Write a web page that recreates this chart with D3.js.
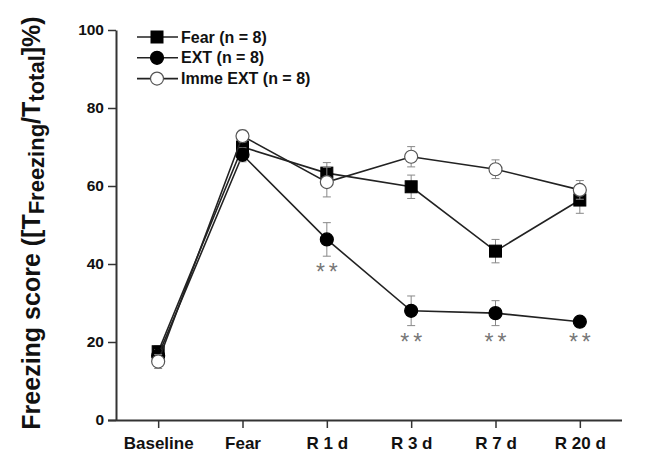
<!DOCTYPE html>
<html>
<head>
<meta charset="utf-8">
<script src="https://cdn.jsdelivr.net/npm/d3@7"></script>
<style>
  body { margin: 0; background: #fff; }
  text { font-family: Arial, "Liberation Sans", sans-serif; }
</style>
</head>
<body>
<div id="container"></div>
<script>
let w = 646;
let h = 455;

// categories on the x axis
let days = ["Baseline", "Fear", "R 1 d", "R 3 d", "R 7 d", "R 20 d"];
let yTicks = [0, 20, 40, 60, 80, 100];

// series means and sem
let fearMean = [17.5, 70, 63.3, 59.8, 43.3, 56.4];
let fearSem  = [1.5, 1.8, 2.7, 3, 3, 3.4];
let extMean  = [16.5, 68, 46.3, 28, 27.4, 25.2];
let extSem   = [1.5, 1.8, 4.3, 3.8, 3.2, 1];
let immeMean = [15, 72.8, 61, 67.5, 64.3, 59];
let immeSem  = [1.8, 1.5, 3.8, 2.6, 2.4, 2.4];

// which points get the ** mark (EXT group)
let starDays = ["R 1 d", "R 3 d", "R 7 d", "R 20 d"];

let seriesNames = ["Fear (n = 8)", "EXT (n = 8)", "Imme EXT (n = 8)"];

function makeSeries(means, sems){
  return days.map(function(d, i){
    return {day: d, v: means[i], sem: sems[i]};
  });
}

let series = [
  {name: seriesNames[0], shape: "square", fill: "#000", pts: makeSeries(fearMean, fearSem)},
  {name: seriesNames[1], shape: "circle", fill: "#000", pts: makeSeries(extMean, extSem)},
  {name: seriesNames[2], shape: "circle", fill: "#fff", pts: makeSeries(immeMean, immeSem)}
];

let viz = d3.select("#container")
  .append("svg")
    .attr("width", w)
    .attr("height", h)
    .style("background-color", "white");

let padL = 116, padR = 622, padT = 30, padB = 420;

let xScale = d3.scalePoint().domain(days).range([padL, padR]).padding(0.5);
let yScale = d3.scaleLinear().domain([0, 100]).range([padB, padT]);

// axes
let xAxis = d3.axisBottom(xScale).tickSize(8).tickSizeOuter(0);
let xAxisGroup = viz.append("g").attr("class", "xaxis")
  .attr("transform", "translate(0," + padB + ")")
  .call(xAxis);
xAxisGroup.select(".domain").attr("d", "M" + (padL - 8) + ",0.5H" + padR);
xAxisGroup.selectAll("line").attr("stroke", "#333").attr("stroke-width", 1.5);
xAxisGroup.select(".domain").attr("stroke", "#333").attr("stroke-width", 2);
xAxisGroup.selectAll("text")
  .attr("y", 17)
  .attr("font-size", 17)
  .attr("font-weight", "bold")
  .attr("fill", "#111");

let yAxis = d3.axisLeft(yScale).tickValues(yTicks).tickSize(8).tickSizeOuter(0);
let yAxisGroup = viz.append("g").attr("class", "yaxis")
  .attr("transform", "translate(" + padL + ",0)")
  .call(yAxis);
yAxisGroup.selectAll("line").attr("stroke", "#333").attr("stroke-width", 1.5);
yAxisGroup.select(".domain").attr("stroke", "#333").attr("stroke-width", 2);
yAxisGroup.selectAll("text")
  .attr("x", -12)
  .attr("font-size", 15.5)
  .attr("font-weight", "bold")
  .attr("fill", "#111");

// y axis title with subscripts
let title = viz.append("text")
  .attr("transform", "translate(40," + 223 + ") rotate(-90)")
  .attr("text-anchor", "middle")
  .attr("font-size", 25)
  .attr("font-weight", "bold")
  .attr("fill", "#111");
title.append("tspan").text("Freezing score ([T");
title.append("tspan").attr("font-size", 22).attr("dy", 4).text("Freezing");
title.append("tspan").attr("dy", -4).text("/T");
title.append("tspan").attr("font-size", 22).attr("dy", 4).text("total");
title.append("tspan").attr("dy", -4).text("]%)");

let line = d3.line()
  .x(function(d){ return xScale(d.day); })
  .y(function(d){ return yScale(d.v); });

let plot = viz.append("g").attr("class", "plot");

function drawMarker(g, s, x, y){
  if(s.shape == "square"){
    g.append("rect")
      .attr("x", x - 6).attr("y", y - 6)
      .attr("width", 12).attr("height", 12)
      .attr("fill", s.fill).attr("stroke", "#000").attr("stroke-width", 1);
  }else{
    g.append("circle")
      .attr("cx", x).attr("cy", y).attr("r", 6.5)
      .attr("fill", s.fill).attr("stroke", s.fill == "#fff" ? "#555" : "#000")
      .attr("stroke-width", 1.2);
  }
}

series.forEach(function(s){
  let g = plot.append("g");
  g.append("path")
    .datum(s.pts)
    .attr("d", line)
    .attr("fill", "none")
    .attr("stroke", "#222")
    .attr("stroke-width", 1.6);
  // error bars
  s.pts.forEach(function(p){
    let x = xScale(p.day);
    let y1 = yScale(p.v + p.sem), y2 = yScale(p.v - p.sem);
    g.append("line").attr("x1", x).attr("x2", x).attr("y1", y1).attr("y2", y2)
      .attr("stroke", "#888").attr("stroke-width", 1);
    [y1, y2].forEach(function(yy){
      g.append("line").attr("x1", x - 4).attr("x2", x + 4).attr("y1", yy).attr("y2", yy)
        .attr("stroke", "#888").attr("stroke-width", 1);
    });
  });
  s.pts.forEach(function(p){
    drawMarker(g, s, xScale(p.day), yScale(p.v));
  });
});

// ** marks under EXT points
series[1].pts.forEach(function(p){
  if(starDays.indexOf(p.day) < 0) return;
  viz.append("text")
    .attr("x", xScale(p.day) + 2)
    .attr("y", yScale(p.v - p.sem) + 24)
    .attr("text-anchor", "middle")
    .attr("font-size", 23)
    .attr("fill", "#777")
    .attr("letter-spacing", 4)
    .text("**");
});

// legend
let legend = viz.append("g").attr("class", "legend");
series.forEach(function(s, i){
  let y = 37 + i * 20.8;
  let lg = legend.append("g");
  lg.append("line").attr("x1", 137).attr("x2", 178).attr("y1", y).attr("y2", y)
    .attr("stroke", "#222").attr("stroke-width", 1.6);
  drawMarker(lg, s, 157, y);
  lg.append("text")
    .attr("x", 181).attr("y", y + 5.5)
    .attr("font-size", 16)
    .attr("font-weight", "bold")
    .attr("fill", "#111")
    .text(s.name);
});
</script>
</body>
</html>
